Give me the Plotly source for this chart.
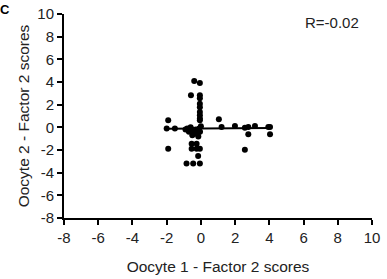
import numpy as np
import plotly.graph_objects as go

x_vals = [-0.39, -0.06, -0.58, -0.06, -0.06, -0.06, -0.06, -0.06, -0.06, -0.06, -0.06,
          -1.91, 1.05,
          -2.0, -1.52,
          -0.8, -0.6, -0.5, -0.3, -0.1, -0.7, -0.4, -0.2, -0.05, -0.5, -0.15, -0.3, 0.0, -0.9,
          1.21, 1.99, 2.57, 2.77, 3.16, 2.77, 3.94, 4.04, 4.04,
          -0.54, -0.25, -1.91, -0.54, -0.25, -0.06, 2.57, -0.16, -0.84, -0.45, -0.06]
y_vals = [4.09, 3.91, 2.82, 2.82, 2.56, 2.09, 1.77, 1.35, 1.06, 0.79, 0.62,
          0.62, 0.71,
          -0.11, -0.11,
          -0.1, 0.0, -0.2, -0.3, -0.1, -0.4, -0.5, -0.6, -0.4, -0.7, -0.8, -0.2, 0.1, -0.2,
          0.03, 0.11, -0.03, 0.03, 0.11, -0.62, 0.03, 0.03, -0.62,
          -1.44, -1.44, -1.88, -1.88, -1.88, -1.88, -1.97, -2.53, -3.2, -3.2, -3.2]
tick_vals = [-8, -6, -4, -2, 0, 2, 4, 6, 8, 10]
tick_text = ["-8", "-6", "-4", "-2", "0", "2", "4", "6", "8", "10"]
r_label = "R=-0.02"

xa = np.array(x_vals)
ya = np.array(y_vals)
slope, intercept = np.polyfit(xa, ya, 1)
line_x = np.array([xa.min(), xa.max()])
line_y = slope * line_x + intercept

fig = go.Figure()
fig.add_trace(go.Scatter(x=xa, y=ya, mode="markers",
                         marker=dict(color="black", size=6), showlegend=False))
fig.add_trace(go.Scatter(x=line_x, y=line_y, mode="lines",
                         line=dict(color="black", width=2), showlegend=False))

FONT = "Liberation Sans, Arial"
axis_common = dict(range=[-8, 10], tickvals=tick_vals, ticktext=tick_text, showline=True,
                   linecolor="black", linewidth=2, ticks="outside", ticklen=5, tickwidth=2,
                   tickcolor="black", showgrid=False, zeroline=False, automargin=False,
                   tickfont=dict(family=FONT, size=15, color="#222"),
                   title_font=dict(family=FONT, size=15.5, color="#222"))

fig.update_layout(
    width=387, height=279,
    margin=dict(l=64, r=15, t=14, b=61),
    plot_bgcolor="white", paper_bgcolor="white",
    xaxis=dict(title=dict(text="Oocyte 1 - Factor 2 scores", standoff=16), **axis_common),
    yaxis=dict(title=dict(text="Oocyte 2 - Factor 2 scores", standoff=4), **axis_common),
    annotations=[
        dict(text=r_label, x=0.87, y=1.01, xref="paper", yref="paper", showarrow=False,
             xanchor="center", yanchor="top",
             font=dict(family=FONT, size=15, color="#222")),
        dict(text="<b>C</b>", x=-0.19, y=1.068, xref="paper", yref="paper", showarrow=False,
             xanchor="center", yanchor="top",
             font=dict(family=FONT, size=13, color="black")),
    ],
)
fig.write_html("out.html", config={"displayModeBar": False},
               post_script="document.body.style.margin='0';document.body.style.overflow='hidden';")
